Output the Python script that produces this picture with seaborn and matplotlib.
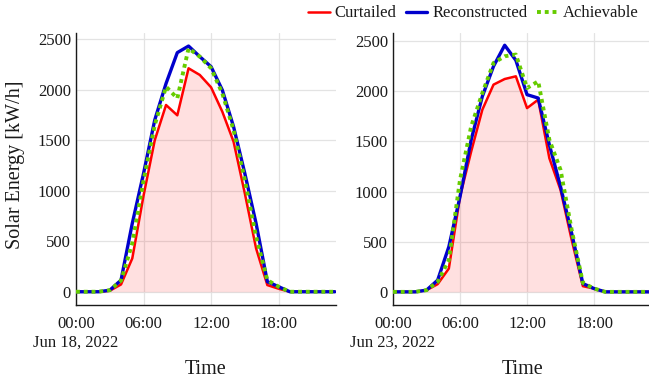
import numpy as np
import pandas as pd
import matplotlib
matplotlib.use("Agg")
import matplotlib.pyplot as plt
import seaborn as sns

hours = list(range(24))

# Jun 18, 2022
curt_1 = [0, 0, 0, 10, 72, 330, 950, 1500, 1847, 1745, 2210, 2144, 2022, 1781, 1484, 973, 429, 66, 30, 0, 0, 0, 0, 0]
reco_1 = [0, 0, 0, 15, 115, 676, 1170, 1700, 2060, 2365, 2430, 2325, 2226, 1995, 1632, 1170, 676, 100, 50, 0, 0, 0, 0, 0]
ach_1 = [0, 0, 0, 15, 110, 478, 1100, 1650, 2028, 1913, 2407, 2325, 2210, 1962, 1600, 1105, 544, 115, 50, 0, 0, 0, 0, 0]

# Jun 23, 2022
curt_2 = [0, 0, 0, 17, 77, 233, 950, 1400, 1817, 2067, 2123, 2150, 1833, 1917, 1333, 1017, 517, 57, 33, 0, 0, 0, 0, 0]
reco_2 = [0, 0, 0, 17, 117, 450, 950, 1517, 1950, 2250, 2460, 2310, 1967, 1933, 1467, 1050, 583, 83, 33, 0, 0, 0, 0, 0]
ach_2 = [0, 0, 0, 17, 100, 317, 1117, 1650, 1983, 2283, 2350, 2367, 2033, 2100, 1517, 1217, 617, 90, 33, 0, 0, 0, 0, 0]

dates = ["Jun 18, 2022", "Jun 23, 2022"]
tick_hours = [0, 6, 12, 18]
tick_labels = ["00:00", "06:00", "12:00", "18:00"]
y_ticks = [0, 500, 1000, 1500, 2000, 2500]
series_names = ["Curtailed", "Reconstructed", "Achievable"]

sns.set_theme(style="white")
plt.rcParams['font.family'] = ['Liberation Serif', 'DejaVu Serif']

colors = {"Curtailed": "#ff0000", "Reconstructed": "#0000cc", "Achievable": "#66cc00"}
widths = {"Curtailed": 1.8, "Reconstructed": 2.4, "Achievable": 2.8}

fig = plt.figure(figsize=(6.49, 3.83), dpi=100)
W, H = 649, 383
ax1 = fig.add_axes([76 / W, 1 - 305 / H, 260 / W, 272.3 / H])
ax2 = fig.add_axes([393 / W, 1 - 305 / H, 258 / W, 272.3 / H])

TXT = "#1a1a1a"
panels = [
    (ax1, curt_1, reco_1, ach_1, (-131, 2562), 75.5, 206),
    (ax2, curt_2, reco_2, ach_2, (-131, 2585), 393, 522.5),
]

for i, (ax, c, r, a, ylim, date_x, time_x) in enumerate(panels):
    df = pd.DataFrame({"hour": hours * 3,
                       "value": c + r + a,
                       "series": ["Curtailed"] * 24 + ["Reconstructed"] * 24 + ["Achievable"] * 24})
    ax.fill_between(hours, 0, c, color="#ff0000", alpha=0.12, linewidth=0, zorder=1)
    for name in series_names:
        sub = df[df["series"] == name]
        line_ax = sns.lineplot(data=sub, x="hour", y="value", ax=ax, color=colors[name],
                               linewidth=widths[name],
                               label=name if i == 0 else None, zorder=3)
        if name == "Achievable":
            line_ax.lines[-1].set_dashes((1.0, 1.0))
            line_ax.lines[-1].set_dash_capstyle("butt")
    ax.set_xlim(0, 23.1)
    ax.set_ylim(*ylim)
    ax.set_xticks(tick_hours)
    ax.set_xticklabels(tick_labels, fontsize=12)
    ax.set_yticks(y_ticks)
    ax.set_yticklabels([str(v) for v in y_ticks], fontsize=12)
    ax.grid(True, color="#e3e3e3", linewidth=0.9)
    ax.set_axisbelow(True)
    for s in ["top", "right"]:
        ax.spines[s].set_visible(False)
    for s in ["left", "bottom"]:
        ax.spines[s].set_color(TXT)
        ax.spines[s].set_linewidth(1.0)
    ax.tick_params(axis="x", length=0, pad=8, colors=TXT)
    ax.tick_params(axis="y", length=0, pad=3.6, colors=TXT)
    ax.set_xlabel("")
    ax.set_ylabel("")
    if ax.get_legend() is not None:
        ax.get_legend().remove()
    fig.text(date_x / W, 1 - 343 / H, dates[i], ha="center", va="center", fontsize=12, color=TXT)
    fig.text(time_x / W, 1 - 370 / H, "Time", ha="center", va="center", fontsize=14.5, color=TXT)

fig.text(15.5 / W, 1 - 165 / H, "Solar Energy [kW/h]", rotation=90, ha="center", va="center",
         fontsize=14.5, color=TXT)

handles, labels = ax1.get_legend_handles_labels()
leg = fig.legend(handles, labels, loc="upper right", bbox_to_anchor=(654 / W, 1.025), ncol=3, frameon=False,
                 fontsize=12, handlelength=1.3, handletextpad=0.3, columnspacing=0.55)
for t in leg.get_texts():
    t.set_color(TXT)
leg.get_lines()[2].set_dashes((1.0, 1.0))

fig.savefig("out.png", dpi=100)
